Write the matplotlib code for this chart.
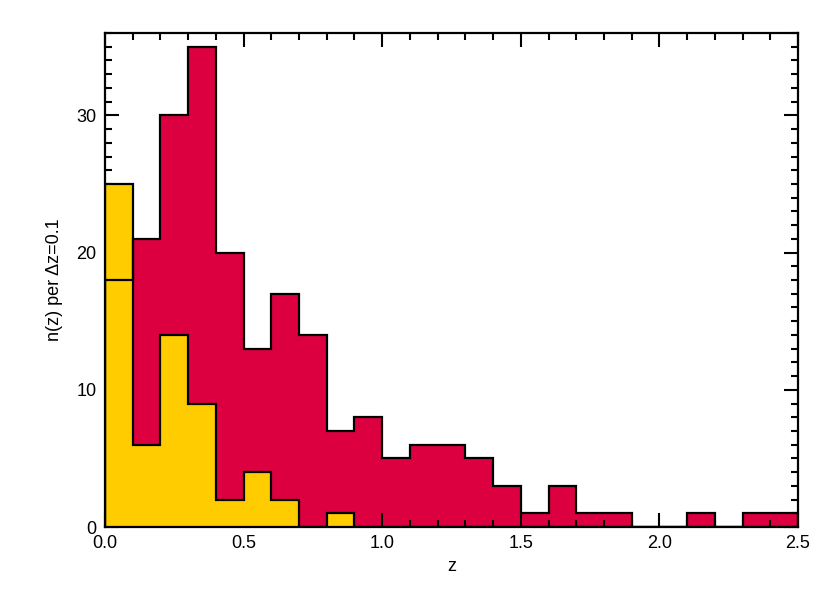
import numpy as np
import matplotlib
matplotlib.use('Agg')
import matplotlib.pyplot as plt
from matplotlib.ticker import MultipleLocator

plt.rcParams['font.family'] = ['Liberation Sans', 'DejaVu Sans']

# histogram data, bins of dz = 0.1 from 0 to 2.5
bin_edges = np.round(np.arange(0, 2.51, 0.1), 2)
red_counts = [18, 21, 30, 35, 20, 13, 17, 14, 7, 8, 5, 6, 6, 5, 3, 1, 3, 1, 1, 0, 0, 1, 0, 1, 1]
yellow_counts = [25, 6, 14, 9, 2, 4, 2, 0, 1, 0, 0, 0, 0, 0, 0, 0, 0, 0, 0, 0, 0, 0, 0, 0, 0]

red = '#dc0040'
yellow = '#ffcc00'

fig = plt.figure(figsize=(8.3, 5.93), dpi=100)
ax = fig.add_axes([105/830, 1 - 527/593, (798-105)/830, (527-33)/593])

widths = np.diff(bin_edges)
ax.bar(bin_edges[:-1], red_counts, width=widths, align='edge', color=red, linewidth=0, zorder=1)
ax.bar(bin_edges[:-1], yellow_counts, width=widths, align='edge', color=yellow, linewidth=0, zorder=2)
ax.stairs(yellow_counts, bin_edges, color='k', linewidth=1.6, zorder=3)
ax.stairs(red_counts, bin_edges, color='k', linewidth=1.6, zorder=4)

ax.set_xlim(0, 2.5)
ax.set_ylim(0, 36)
ax.xaxis.set_major_locator(MultipleLocator(0.5))
ax.xaxis.set_minor_locator(MultipleLocator(0.1))
ax.yaxis.set_major_locator(MultipleLocator(10))
ax.yaxis.set_minor_locator(MultipleLocator(1))
ax.xaxis.set_major_formatter(matplotlib.ticker.FormatStrFormatter('%.1f'))
ax.tick_params(which='both', direction='in', top=True, right=True, labelsize=13, width=1.5, pad=6)
ax.tick_params(which='major', length=10)
ax.tick_params(which='minor', length=5)
for s in ax.spines.values():
    s.set_linewidth(1.6)
    s.set_zorder(5)

ax.set_xlabel('z', fontsize=13)
ax.set_ylabel('n(z) per \u0394z=0.1', fontsize=13, labelpad=10)

fig.savefig('out.png', dpi=100)
